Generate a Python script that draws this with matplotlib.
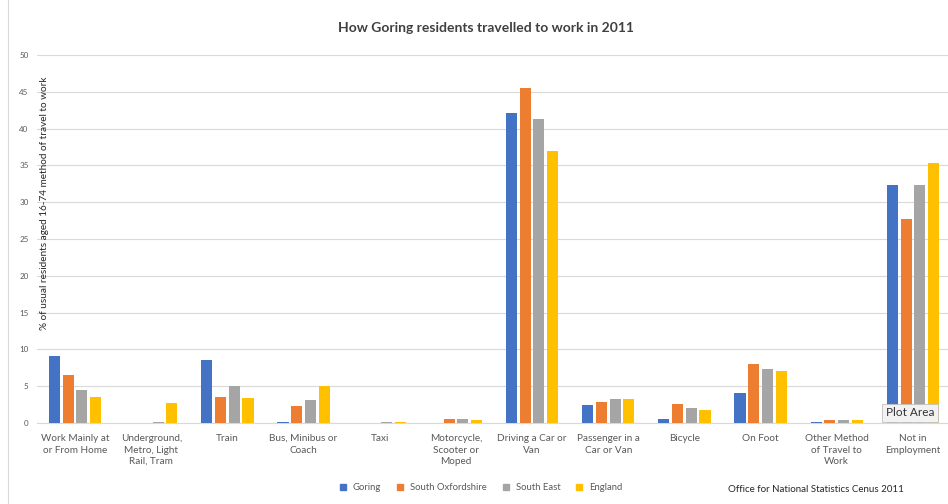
import numpy as np
import matplotlib.pyplot as plt
from matplotlib.lines import Line2D

plt.rcParams['font.family'] = ['Lato', 'DejaVu Sans']

categories = ['Work Mainly at\nor From Home', 'Underground,\nMetro, Light\nRail, Tram', 'Train',
              'Bus, Minibus or\nCoach', 'Taxi', 'Motorcycle,\nScooter or\nMoped',
              'Driving a Car or\nVan', 'Passenger in a\nCar or Van', 'Bicycle', 'On Foot',
              'Other Method\nof Travel to\nWork', 'Not in\nEmployment']

goring      = [9.1, 0.0, 8.5, 0.2, 0.0, 0.0, 42.1, 2.4, 0.6, 4.1, 0.2, 32.4]
south_oxon  = [6.5, 0.0, 3.5, 2.3, 0.0, 0.6, 45.5, 2.9, 2.6, 8.0, 0.4, 27.7]
south_east  = [4.5, 0.2, 5.0, 3.1, 0.2, 0.6, 41.3, 3.2, 2.0, 7.4, 0.4, 32.3]
england     = [3.5, 2.7, 3.4, 5.0, 0.2, 0.4, 37.0, 3.2, 1.8, 7.0, 0.4, 35.3]

series = [('Goring', goring, '#4472C4'),
          ('South Oxfordshire', south_oxon, '#ED7D31'),
          ('South East', south_east, '#A5A5A5'),
          ('England', england, '#FFC000')]

W, H = 948, 504
fig = plt.figure(figsize=(W / 100, H / 100), dpi=100)
fig.patch.set_facecolor('white')

x0, x_end = 37, 951  # plot area runs just past the right edge (cropped)
y_top, y_bot = 55, 423
ax = fig.add_axes([x0 / W, (H - y_bot) / H, (x_end - x0) / W, (y_bot - y_top) / H])

x = np.arange(len(categories))
pitch = 0.18
width = 0.145
for i, (name, vals, col) in enumerate(series):
    ax.bar(x + (i - 1.5) * pitch, vals, width, color=col, label=name, zorder=3)

ax.set_xlim(-0.5, len(categories) - 0.5)
ax.set_ylim(0, 50)
ax.set_yticks(range(0, 51, 5))
ax.yaxis.grid(True, color='#D9D9D9', lw=0.8, zorder=0)
for s in ['top', 'right', 'left']:
    ax.spines[s].set_visible(False)
ax.spines['bottom'].set_color('#D9D9D9')
ax.tick_params(axis='both', length=0, colors='#595959')
ax.tick_params(axis='y', labelsize=5.8, pad=6)
ax.set_xticks(x)
ax.set_xticklabels(categories, fontsize=7.2, color='#595959', linespacing=1.35)
ax.tick_params(axis='x', pad=8)

# y label drawn inside the plot area
fig.text(45 / W, 1 - 203 / H, '% of usual residents aged 16-74 method of travel to work',
         rotation=90, fontsize=7.2, color='#262626', ha='center', va='center')

fig.text(486 / W, 1 - 28 / H, 'How Goring residents travelled to work in 2011',
         fontsize=10, color='#404040', ha='center', va='center', fontweight='bold')

handles = [Line2D([], [], marker='s', ls='none', color=c, markersize=4.5) for _, _, c in series]
fig.legend(handles, [s[0] for s in series], loc='center', bbox_to_anchor=(478 / W, 1 - 488 / H),
           ncol=4, frameon=False, fontsize=6.8, handletextpad=0.05, columnspacing=1.0,
           labelcolor='#595959')

fig.text(728 / W, 1 - 489 / H, 'Office for National Statistics Cenus 2011',
         fontsize=7, color='#262626', ha='left', va='center')

# tooltip overlay seen in the screenshot
fig.text(910 / W, 1 - 413 / H, 'Plot Area', fontsize=8.5, color='#333333', ha='center', va='center',
         bbox=dict(boxstyle='square,pad=0.3', fc='#F2F2F2', ec='#BFBFBF', lw=0.6))

# chart border on the left
fig.add_artist(Line2D([8 / W, 8 / W], [0, 1], color='#D9D9D9', lw=0.8))

fig.savefig('out.png', dpi=100)
